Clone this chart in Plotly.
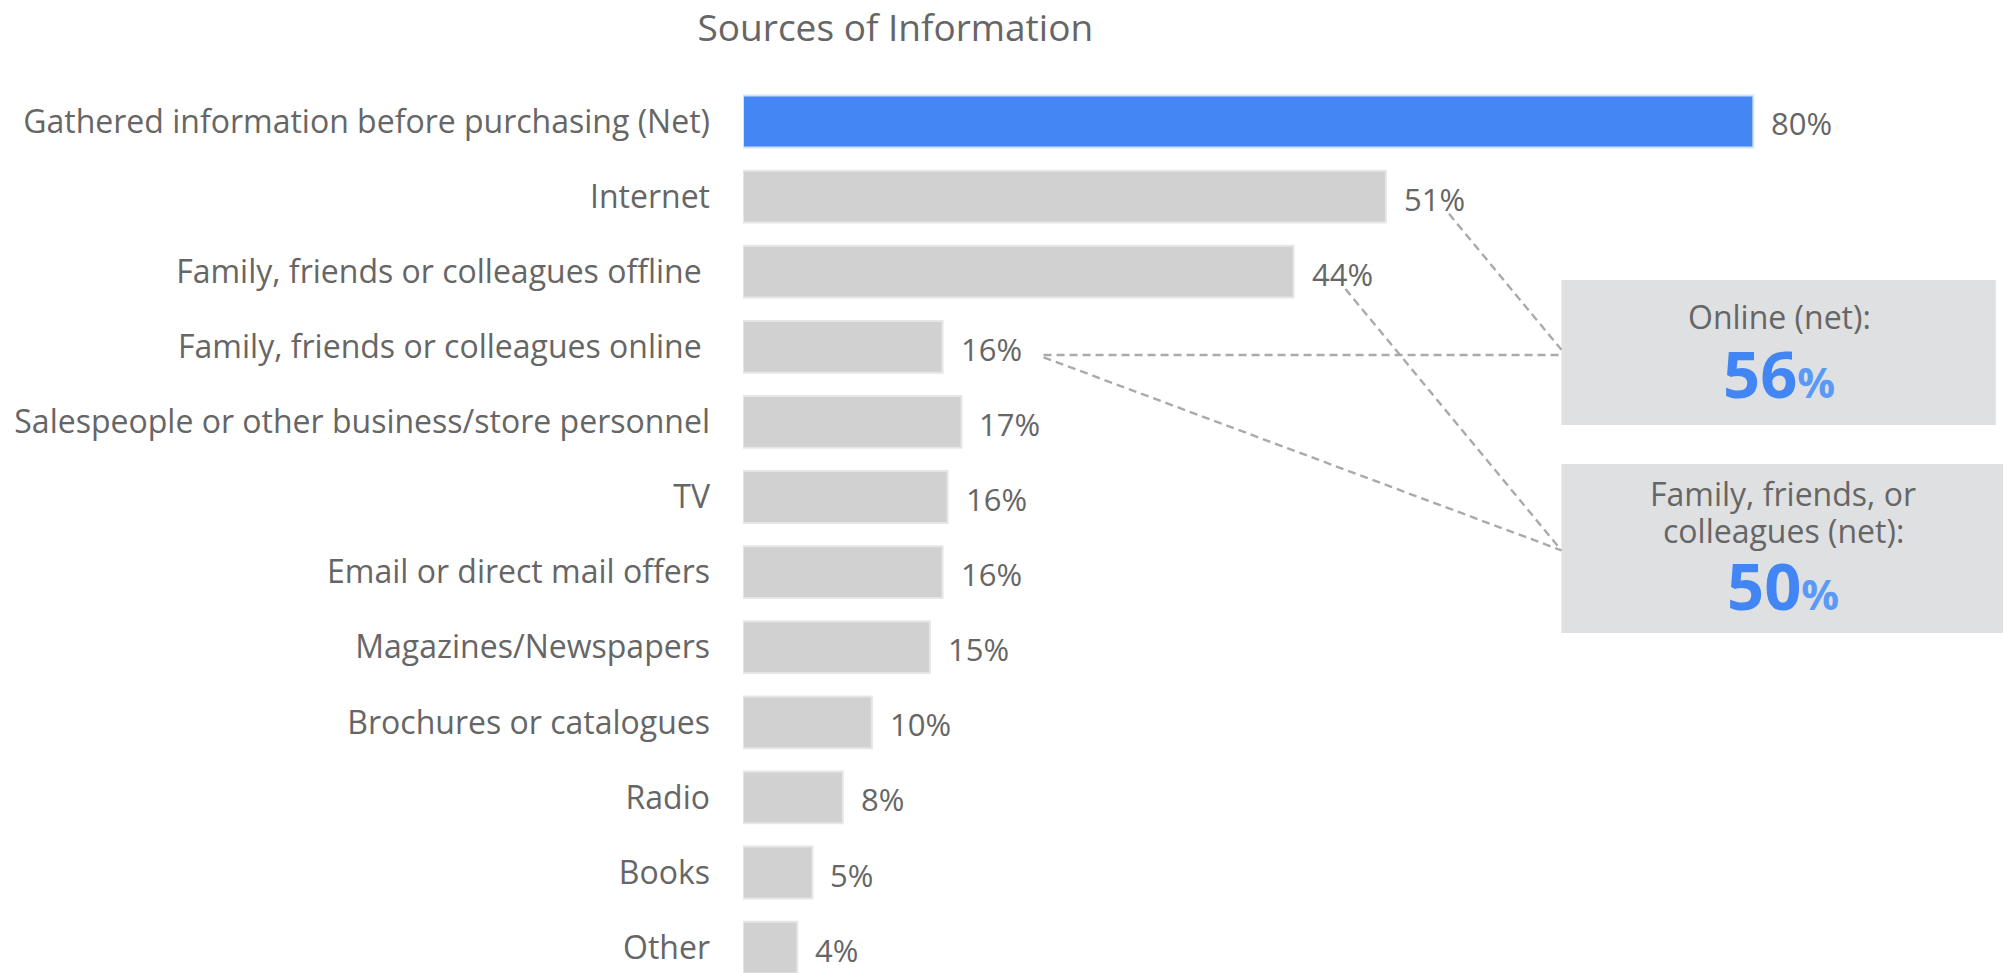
import plotly.graph_objects as go

title = "Sources of Information"
categories = [
    "Gathered information before purchasing (Net)",
    "Internet",
    "Family, friends or colleagues offline ",
    "Family, friends or colleagues online ",
    "Salespeople or other business/store personnel",
    "TV",
    "Email or direct mail offers",
    "Magazines/Newspapers",
    "Brochures or catalogues",
    "Radio",
    "Books",
    "Other",
]
values = [80, 50.9, 43.6, 15.8, 17.3, 16.2, 15.8, 14.8, 10.2, 7.9, 5.5, 4.3]
value_labels = ["80%", "51%", "44%", "16%", "17%", "16%", "16%", "15%", "10%", "8%", "5%", "4%"]

net_titles = ["Online (net):", "Family, friends, or", "colleagues (net):"]
net_values = [56, 50]

GRAY_TXT = "#666666"
FONT = "Open Sans"
BLUE = "#4486f4"

bar_colors = [BLUE] + ["#d1d1d1"] * (len(categories) - 1)
line_colors = ["#d6e2f6"] + ["#e6e6e6"] * (len(categories) - 1)

fig = go.Figure()
fig.add_trace(go.Bar(
    x=values, y=categories, orientation="h",
    marker=dict(color=bar_colors, line=dict(color=line_colors, width=2)),
    hoverinfo="skip", showlegend=False,
))

annotations = []
for cat, v, lab in zip(categories, values, value_labels):
    annotations.append(dict(
        x=v, y=cat, xref="x", yref="y", text=lab, showarrow=False,
        xanchor="left", yanchor="middle", xshift=16, yshift=-2,
        font=dict(family=FONT, size=31, color=GRAY_TXT),
    ))

# boxes (data coordinates: x in %, y in row index)
box_x0 = 64.8
boxes = [(2.11, 4.04, 99.2), (4.56, 6.81, 99.8)]
shapes = []
for (y0, y1, x1) in boxes:
    shapes.append(dict(type="rect", xref="x", yref="y", x0=box_x0, x1=x1, y0=y0, y1=y1,
                       fillcolor="#dfe0e2", line=dict(width=0), layer="below"))

# connector lines
dash = dict(color="#aaaaaa", width=2.4, dash="8px,5px")
conn = [
    (values[1] + 5.0, 1 + 0.23, box_x0, 3.04),
    (values[3] + 8.0, 3 + 0.11, box_x0, 3.11),
    (values[2] + 4.1, 2 + 0.23, box_x0, 5.71),
    (values[3] + 8.0, 3 + 0.14, box_x0, 5.71),
]
for (xa, ya, xb, yb) in conn:
    shapes.append(dict(type="line", xref="x", yref="y", x0=xa, y0=ya, x1=xb, y1=yb, line=dash))

box_cx = (box_x0 + 99.3) / 2
pct = "<span style='font-size:42px;color:#5a9af6'><b>%</b></span>"
annotations += [
    dict(x=box_cx, y=2.60, xref="x", yref="y", text=net_titles[0], showarrow=False,
         font=dict(family=FONT, size=32, color=GRAY_TXT)),
    dict(x=box_cx, y=3.35, xref="x", yref="y", text=f"<b>{net_values[0]}</b>{pct}",
         showarrow=False, font=dict(family=FONT, size=65, color="#4285f4")),
    dict(x=box_cx + 0.3, y=4.95, xref="x", yref="y", text=net_titles[1], showarrow=False,
         font=dict(family=FONT, size=32, color=GRAY_TXT)),
    dict(x=box_cx + 0.3, y=5.44, xref="x", yref="y", text=net_titles[2], showarrow=False,
         font=dict(family=FONT, size=32, color=GRAY_TXT)),
    dict(x=box_cx + 0.3, y=6.17, xref="x", yref="y", text=f"<b>{net_values[1]}</b>{pct}",
         showarrow=False, font=dict(family=FONT, size=65, color="#4285f4")),
]

# page body has an 8px margin: figure occupies 8..2011 x 8..973
fig.update_layout(
    width=2003, height=965,
    margin=dict(l=735, r=0, t=0, b=0),
    paper_bgcolor="white", plot_bgcolor="white",
    bargap=0.31,
    title=dict(text=title, x=0.443, xanchor="center", y=0.979, yanchor="middle",
               yref="container", font=dict(family=FONT, size=37, color=GRAY_TXT)),
    xaxis=dict(visible=False, range=[0, 100.4], fixedrange=True),
    yaxis=dict(type="category", range=[11.338, -1.511], showgrid=False, zeroline=False,
               showline=False, ticks="", ticklabelstandoff=32,
               tickfont=dict(family=FONT, size=32, color=GRAY_TXT)),
    shapes=shapes, annotations=annotations,
)

fig.write_html("out.html")
